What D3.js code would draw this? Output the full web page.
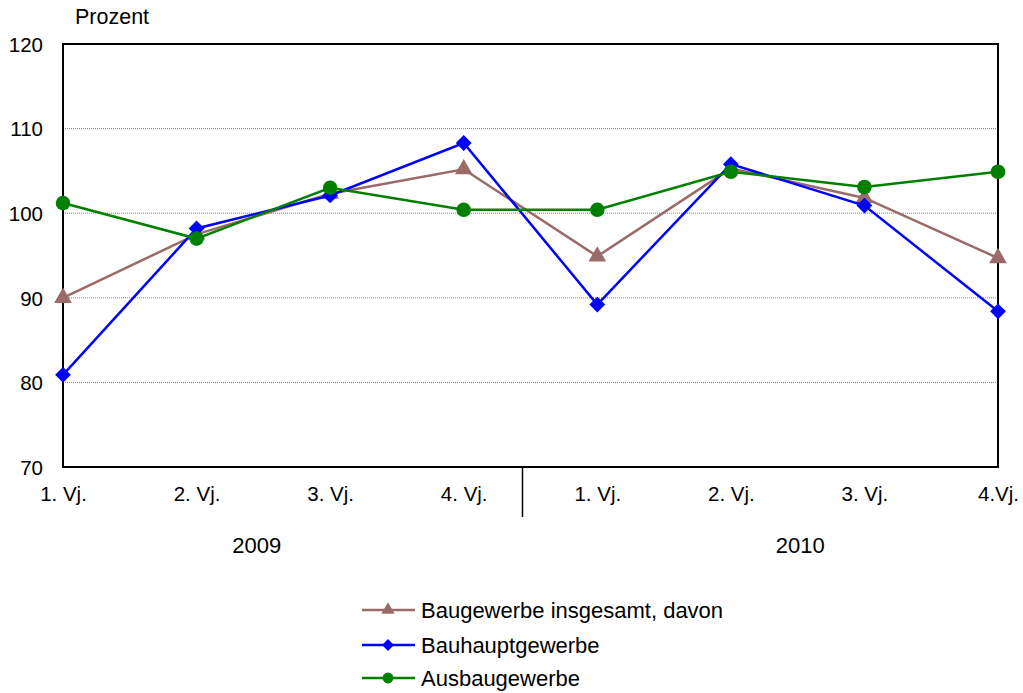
<!DOCTYPE html>
<html>
<head>
<meta charset="utf-8">
<script src="https://cdn.jsdelivr.net/npm/d3@7"></script>
<style>
  html, body { margin: 0; padding: 0; background: #fff; }
  svg { display: block; font-family: "Liberation Sans", Arial, sans-serif; }
</style>
</head>
<body>
<svg id="chart" width="1023" height="693"></svg>
<script>
// Quarters and years on the x axis
const quarters = ["1. Vj.", "2. Vj.", "3. Vj.", "4. Vj.", "1. Vj.", "2. Vj.", "3. Vj.", "4.Vj."];
const years = ["2009", "2010"];
const yTicks = [70, 80, 90, 100, 110, 120];

// Index values (Prozent)
const baugewerbe = [90.0, 97.5, 102.3, 105.2, 94.9, 105.3, 101.8, 94.7];
const bauhaupt   = [80.9, 98.2, 102.1, 108.3, 89.2, 105.8, 100.9, 88.4];
const ausbau     = [101.2, 97.0, 103.0, 100.4, 100.4, 104.9, 103.1, 104.9];

const seriesNames = ["Baugewerbe insgesamt, davon", "Bauhauptgewerbe", "Ausbaugewerbe"];
const seriesValues = [baugewerbe, bauhaupt, ausbau];
const seriesColors = ["#9b6a6a", "#0000ff", "#008000"];

const svg = d3.select("#chart");
const m = { left: 63, right: 998, top: 44, bottom: 467 };

const x = d3.scalePoint().domain(d3.range(quarters.length)).range([m.left, m.right]).padding(0);
const y = d3.scaleLinear().domain([70, 120]).range([m.bottom, m.top]);
const step = x.step();

// Marker shapes: triangle, square diamond, circle
function marker(sel, s, scale) {
  if (s === 0) {
    sel.append("path")
      .attr("d", d3.symbol().type(d3.symbolTriangle).size(135 * scale * scale)())
      .attr("fill", seriesColors[s]);
  } else if (s === 1) {
    sel.append("path")
      .attr("transform", "rotate(45)")
      .attr("d", d3.symbol().type(d3.symbolSquare).size(125 * scale * scale)())
      .attr("fill", seriesColors[s]);
  } else {
    sel.append("circle")
      .attr("r", 7.3 * scale)
      .attr("fill", seriesColors[s]);
  }
}

// Dotted gridlines
svg.append("g")
  .selectAll("line")
  .data(yTicks.filter(t => t > 70 && t < 120))
  .join("line")
  .attr("x1", m.left).attr("x2", m.right)
  .attr("y1", d => y(d)).attr("y2", d => y(d))
  .attr("stroke", "#808080")
  .attr("stroke-width", 1)
  .attr("stroke-dasharray", "1,1");

// Y axis labels
const yAxis = d3.axisLeft(y).tickValues(yTicks).tickSize(0).tickPadding(20);
const yg = svg.append("g").attr("transform", `translate(${m.left},0)`).call(yAxis);
yg.select(".domain").remove();
yg.selectAll("text")
  .attr("font-size", 20.5)
  .attr("font-family", "Liberation Sans, Arial, sans-serif")
  .attr("fill", "#000")
  .attr("dy", "0.36em");

// X axis labels
const xAxis = d3.axisBottom(x).tickFormat(i => quarters[i]).tickSize(0).tickPadding(0);
const xg = svg.append("g").attr("transform", `translate(0,${m.bottom})`).call(xAxis);
xg.select(".domain").remove();
xg.selectAll("text")
  .attr("font-size", 20.5)
  .attr("font-family", "Liberation Sans, Arial, sans-serif")
  .attr("fill", "#000")
  .attr("y", 34)
  .attr("dy", 0);

// Separator between years
const sepX = x(3) + step * 0.44;
svg.append("line")
  .attr("x1", sepX).attr("x2", sepX)
  .attr("y1", m.bottom).attr("y2", 517)
  .attr("stroke", "#000").attr("stroke-width", 1.5);

// Year labels
const yearPos = [1.45, 5.52];
years.forEach((yr, k) => {
  svg.append("text")
    .attr("x", m.left + yearPos[k] * step).attr("y", 553)
    .attr("text-anchor", "middle")
    .attr("font-size", 22)
    .text(yr);
});

// Plot frame
svg.append("rect")
  .attr("x", m.left).attr("y", m.top)
  .attr("width", m.right - m.left).attr("height", m.bottom - m.top)
  .attr("fill", "none").attr("stroke", "#000").attr("stroke-width", 2);

// Axis title
svg.append("text")
  .attr("x", 75).attr("y", 24)
  .attr("font-size", 21.5)
  .text("Prozent");

// Series lines and markers
const line = d3.line().x((d, i) => x(i)).y(d => y(d));
seriesValues.forEach((vals, s) => {
  const g = svg.append("g");
  g.append("path")
    .datum(vals)
    .attr("d", line)
    .attr("fill", "none")
    .attr("stroke", seriesColors[s])
    .attr("stroke-width", 2.5);
  g.selectAll("g.mk")
    .data(vals)
    .join("g")
    .attr("class", "mk")
    .attr("transform", (d, i) => `translate(${x(i)},${y(d)})`)
    .each(function () { marker(d3.select(this), s, 1); });
});

// Legend
const legendY = [610, 645, 678];
seriesNames.forEach((name, s) => {
  const g = svg.append("g").attr("transform", `translate(0,${legendY[s]})`);
  g.append("line")
    .attr("x1", 362).attr("x2", 415)
    .attr("y1", 0).attr("y2", 0)
    .attr("stroke", seriesColors[s]).attr("stroke-width", 2.5);
  marker(g.append("g").attr("transform", "translate(388,0)"), s, 0.75);
  g.append("text")
    .attr("x", 421).attr("y", 0)
    .attr("dy", "0.36em")
    .attr("font-size", 22)
    .text(name);
});
</script>
</body>
</html>
